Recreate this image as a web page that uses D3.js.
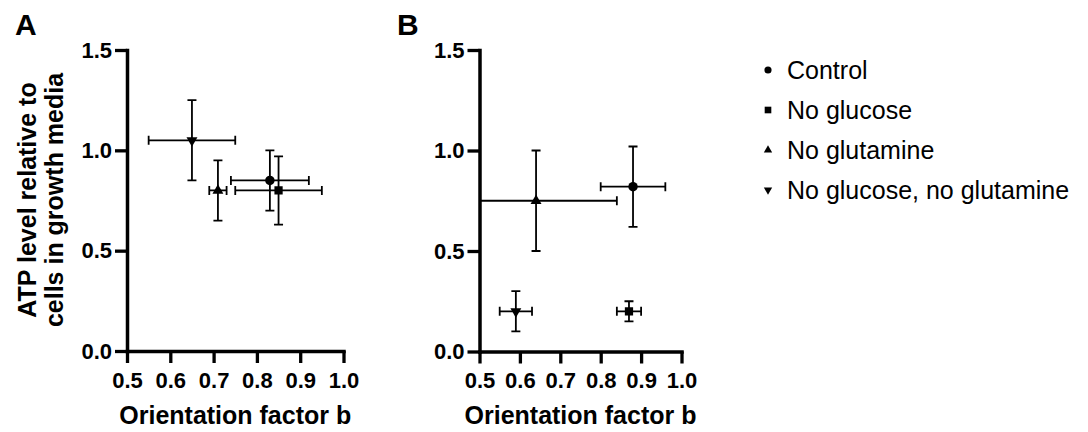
<!DOCTYPE html>
<html>
<head>
<meta charset="utf-8">
<script src="https://cdn.jsdelivr.net/npm/d3@7"></script>
<style>
  body { margin: 0; background: #fff; }
  svg { display: block; font-family: "Liberation Sans", Arial, sans-serif; }
</style>
</head>
<body>
<svg id="chart" width="1088" height="432"></svg>
<script>
// groups, in legend order
let groups = ["Control", "No glucose", "No glutamine", "No glucose, no glutamine"];
let shapes = ["circle", "square", "triangle", "triangleDown"];

// panel A: x = orientation factor b, y = ATP level (mean and error)
let aX    = [0.83, 0.85, 0.71, 0.65];
let aXErr = [0.09, 0.10, 0.02, 0.10];
let aY    = [0.85, 0.80, 0.80, 1.05];
let aYErr = [0.15, 0.17, 0.15, 0.20];

// panel B
let bX    = [0.88, 0.87, 0.64, 0.59];
let bXErr = [0.08, 0.03, 0.20, 0.04];
let bY    = [0.82, 0.20, 0.75, 0.20];
let bYErr = [0.20, 0.05, 0.25, 0.10];

let xTicks = [0.5, 0.6, 0.7, 0.8, 0.9, 1.0];
let yTicks = [0.0, 0.5, 1.0, 1.5];

let svg = d3.select("#chart");

function symbolFor(shape, size) {
    let type = shape === "circle" ? d3.symbolCircle
        : shape === "square" ? d3.symbolSquare : d3.symbolTriangle;
    return d3.symbol().type(type).size(size)();
}

function drawPanel(opts) {
    let x = d3.scaleLinear().domain([0.5, 1.0]).range([opts.left, opts.right]);
    let y = d3.scaleLinear().domain([0, 1.5]).range([opts.bottom, opts.top]);
    let g = svg.append("g");

    let data = groups.map((name, i) => ({
        name: name, shape: shapes[i],
        x: opts.xs[i], xe: opts.xe[i], y: opts.ys[i], ye: opts.ye[i]
    }));

    // error bars that run past the axis get cut off there
    g.append("clipPath").attr("id", opts.id + "-clip")
        .append("rect")
        .attr("x", opts.left).attr("y", opts.top - 10)
        .attr("width", opts.right - opts.left + 10)
        .attr("height", opts.bottom - opts.top + 10);

    let plot = g.append("g").attr("clip-path", "url(#" + opts.id + "-clip)");
    let cap = 4.5;

    let bars = plot.selectAll(".err").data(data).enter()
        .append("g").attr("class", "err")
        .attr("stroke", "#000").attr("stroke-width", 1.8).attr("fill", "none");

    // horizontal error
    bars.append("line")
        .attr("x1", d => x(d.x - d.xe)).attr("x2", d => x(d.x + d.xe))
        .attr("y1", d => y(d.y)).attr("y2", d => y(d.y));
    bars.append("line")
        .attr("x1", d => x(d.x - d.xe)).attr("x2", d => x(d.x - d.xe))
        .attr("y1", d => y(d.y) - cap).attr("y2", d => y(d.y) + cap);
    bars.append("line")
        .attr("x1", d => x(d.x + d.xe)).attr("x2", d => x(d.x + d.xe))
        .attr("y1", d => y(d.y) - cap).attr("y2", d => y(d.y) + cap);
    // vertical error
    bars.append("line")
        .attr("x1", d => x(d.x)).attr("x2", d => x(d.x))
        .attr("y1", d => y(d.y - d.ye)).attr("y2", d => y(d.y + d.ye));
    bars.append("line")
        .attr("x1", d => x(d.x) - cap).attr("x2", d => x(d.x) + cap)
        .attr("y1", d => y(d.y - d.ye)).attr("y2", d => y(d.y - d.ye));
    bars.append("line")
        .attr("x1", d => x(d.x) - cap).attr("x2", d => x(d.x) + cap)
        .attr("y1", d => y(d.y + d.ye)).attr("y2", d => y(d.y + d.ye));

    plot.selectAll(".pt").data(data).enter()
        .append("path").attr("class", "pt")
        .attr("d", d => symbolFor(d.shape, d.shape === "circle" ? 70 : d.shape === "square" ? 68 : 52))
        .attr("transform", d => "translate(" + x(d.x) + "," + y(d.y) + ")" +
            (d.shape === "triangleDown" ? " rotate(180)" : ""))
        .attr("fill", "#000");

    // axes
    let xAxis = g.append("g")
        .attr("transform", "translate(0," + opts.bottom + ")")
        .call(d3.axisBottom(x).tickValues(xTicks).tickFormat(d3.format(".1f"))
            .tickSizeInner(12).tickSizeOuter(0).tickPadding(9));
    let yAxis = g.append("g")
        .attr("transform", "translate(" + opts.left + ",0)")
        .call(d3.axisLeft(y).tickValues(yTicks).tickFormat(d3.format(".1f"))
            .tickSizeInner(12).tickSizeOuter(0).tickPadding(3));

    [xAxis, yAxis].forEach(a => {
        a.select(".domain").attr("stroke", "#000").attr("stroke-width", 3.5)
            .attr("stroke-linecap", "square");
        a.selectAll(".tick line").attr("stroke", "#000").attr("stroke-width", 3.3);
        a.selectAll(".tick text").attr("fill", "#000")
            .attr("font-size", 22).attr("font-weight", "bold")
            .attr("font-family", "'Liberation Sans', Arial, sans-serif");
    });

    g.append("text")
        .attr("x", (opts.left + opts.right) / 2).attr("y", 424)
        .attr("text-anchor", "middle")
        .style("font-size", "25px").style("font-weight", "bold")
        .text("Orientation factor b");

    g.append("text")
        .attr("x", opts.letterX).attr("y", 35)
        .style("font-size", "30px").style("font-weight", "bold")
        .text(opts.letter);
}

drawPanel({
    id: "a", letter: "A", letterX: 15,
    left: 127, right: 343.5, top: 50, bottom: 351,
    xs: aX, xe: aXErr, ys: aY, ye: aYErr
});
drawPanel({
    id: "b", letter: "B", letterX: 397,
    left: 479.5, right: 681.5, top: 50, bottom: 351.5,
    xs: bX, xe: bXErr, ys: bY, ye: bYErr
});

// y axis title (panel A)
let yTitle = svg.append("text")
    .attr("transform", "translate(0,200) rotate(-90)")
    .attr("text-anchor", "middle")
    .style("font-size", "25px").style("font-weight", "bold");
yTitle.append("tspan").attr("x", 0).attr("y", 36).text("ATP level relative to");
yTitle.append("tspan").attr("x", 0).attr("y", 63).text("cells in growth media");

// legend
let legend = svg.selectAll(".legend")
    .data(groups).enter()
    .append("g").attr("class", "legend")
    .attr("transform", (d, i) => "translate(768," + (70 + 40 * i) + ")");

legend.append("path")
    .attr("d", (d, i) => symbolFor(shapes[i], shapes[i] === "circle" ? 40 : shapes[i] === "square" ? 44 : 30))
    .attr("transform", (d, i) => shapes[i] === "triangleDown" ? "rotate(180)" : null)
    .attr("fill", "#000");

legend.append("text")
    .attr("x", 19).attr("dy", "0.35em")
    .style("font-size", "25px")
    .text(d => d);
</script>
</body>
</html>
